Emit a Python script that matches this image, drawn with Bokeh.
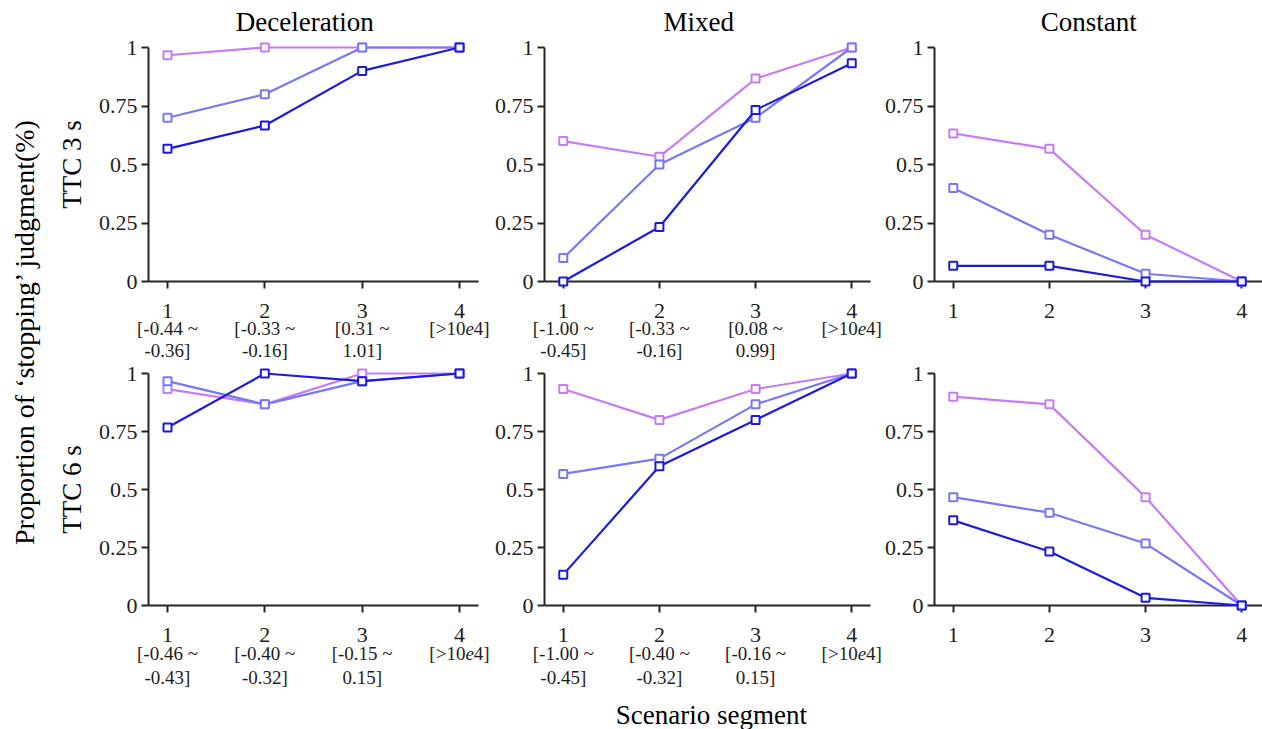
import numpy as np
from bokeh.plotting import figure
from bokeh.layouts import row, column
from bokeh.models import Range1d, FixedTicker, CustomJSTickFormatter
from bokeh.core.properties import value
from bokeh.embed import file_html
from bokeh.resources import INLINE

# ---------------- data ----------------
segments = [1, 2, 3, 4]
y_ticks = [0, 0.25, 0.5, 0.75, 1]
panel_titles = ["Deceleration", "Mixed", "Constant"]
row_labels = ["TTC 3 s", "TTC 6 s"]
series_colors = ["#c77cf6", "#7878f7", "#1b1be0"]

# TTC 3 s
dec3_a = [0.967, 1.0, 1.0, 1.0]
dec3_b = [0.70, 0.80, 1.0, 1.0]
dec3_c = [0.567, 0.667, 0.90, 1.0]
mix3_a = [0.60, 0.533, 0.867, 1.0]
mix3_b = [0.10, 0.50, 0.70, 1.0]
mix3_c = [0.0, 0.233, 0.733, 0.933]
con3_a = [0.633, 0.567, 0.20, 0.0]
con3_b = [0.40, 0.20, 0.033, 0.0]
con3_c = [0.067, 0.067, 0.0, 0.0]
# TTC 6 s
dec6_a = [0.933, 0.867, 1.0, 1.0]
dec6_b = [0.967, 0.867, 0.967, 1.0]
dec6_c = [0.767, 1.0, 0.967, 1.0]
mix6_a = [0.933, 0.80, 0.933, 1.0]
mix6_b = [0.567, 0.633, 0.867, 1.0]
mix6_c = [0.133, 0.60, 0.80, 1.0]
con6_a = [0.90, 0.867, 0.467, 0.0]
con6_b = [0.467, 0.40, 0.267, 0.0]
con6_c = [0.367, 0.233, 0.033, 0.0]

# segment interval labels (first three segments; segment 4 is open)
dec3_intervals = [("[-0.44 ~", "-0.36]"), ("[-0.33 ~", "-0.16]"), ("[0.31 ~", "1.01]")]
mix3_intervals = [("[-1.00 ~", "-0.45]"), ("[-0.33 ~", "-0.16]"), ("[0.08 ~", "0.99]")]
dec6_intervals = [("[-0.46 ~", "-0.43]"), ("[-0.40 ~", "-0.32]"), ("[-0.15 ~", "0.15]")]
mix6_intervals = [("[-1.00 ~", "-0.45]"), ("[-0.40 ~", "-0.32]"), ("[-0.16 ~", "0.15]")]
open_interval = ("[>10", "e", "4]")

FONT = "Liberation Serif"
TXT = "#1e1e1e"
AX = "#262626"
IV_SIZE = 19


def make_panel(width, height, xr, bl, br, bt, bb):
    p = figure(width=width, height=height, x_range=Range1d(*xr), y_range=Range1d(0, 1),
               output_backend="svg", toolbar_location=None,
               min_border_left=bl, min_border_right=br, min_border_top=bt, min_border_bottom=bb)
    p.grid.visible = False
    p.outline_line_color = None
    for ax in (p.xaxis[0], p.yaxis[0]):
        ax.axis_line_color = AX
        ax.axis_line_width = 2
        ax.major_tick_line_color = AX
        ax.major_tick_line_width = 2
        ax.major_tick_in = 0
        ax.major_tick_out = 7
        ax.minor_tick_line_color = None
        ax.major_label_text_font = FONT
        ax.major_label_text_font_size = "22px"
        ax.major_label_text_color = TXT
        ax.formatter = CustomJSTickFormatter(code="return String(tick)")
    p.xaxis.ticker = FixedTicker(ticks=segments)
    p.yaxis.ticker = FixedTicker(ticks=y_ticks)
    p.xaxis.major_label_standoff = 15
    p.yaxis.major_label_standoff = 4
    return p


def add_series(p, ys_list):
    for ys, c in zip(ys_list, series_colors):
        p.line(segments, ys, line_color=c, line_width=2.2, level="overlay")
        p.scatter(segments, ys, marker="square", size=8, line_color=c, line_width=2,
                  fill_color="white", level="overlay")


def txt(p, x, y, text, size, align="center", style="normal", color=TXT, x_offset=0, angle=0):
    p.text(x=[x], y=[y], text=[text], x_offset=x_offset, angle=angle,
           text_font=value(FONT), text_font_size=value(f"{size}px"), text_font_style=style,
           text_align=align, text_baseline="middle", text_color=color, level="overlay")


def add_title(p, text):
    txt(p, 2.41, 1.107, text, 27, color="black")


def add_intervals(p, intervals, y1, y2):
    for x, (l1, l2) in zip(segments[:3], intervals):
        txt(p, x, y1, l1, IV_SIZE)
        txt(p, x, y2, l2, IV_SIZE)
    w1 = 1.897 * IV_SIZE
    w2 = 0.444 * IV_SIZE
    start = -0.5 * 3.174 * IV_SIZE
    offs = [start, start + w1, start + w1 + w2]
    styles = ["normal", "italic", "normal"]
    for part, off, st in zip(open_interval, offs, styles):
        txt(p, segments[3], y1, part, IV_SIZE, align="left", style=st, x_offset=off)


def add_row_label(p, text):
    p.yaxis.axis_label = text
    p.yaxis.axis_label_text_font = FONT
    p.yaxis.axis_label_text_font_size = "27px"
    p.yaxis.axis_label_text_font_style = "normal"
    p.yaxis.axis_label_text_color = "black"
    p.yaxis.axis_label_standoff = 9


XR12 = (0.805, 4.195)
XR3 = (0.805, 4.216)

# top row (frame 234 px tall)
f1 = make_panel(447, 360, XR12, 104, 13, 47, 79)
f2 = make_panel(390, 360, XR12, 49, 11, 47, 79)
f3 = make_panel(381, 360, XR3, 49, 0, 47, 79)
# bottom row (frame 232 px tall)
f4 = make_panel(447, 369, XR12, 104, 13, 13, 124)
f5 = make_panel(390, 369, XR12, 49, 11, 13, 124)
f6 = make_panel(381, 369, XR3, 49, 0, 13, 124)

add_series(f1, [dec3_a, dec3_b, dec3_c])
add_series(f2, [mix3_a, mix3_b, mix3_c])
add_series(f3, [con3_a, con3_b, con3_c])
add_series(f4, [dec6_a, dec6_b, dec6_c])
add_series(f5, [mix6_a, mix6_b, mix6_c])
add_series(f6, [con6_a, con6_b, con6_c])

for p, t in zip([f1, f2, f3], panel_titles):
    add_title(p, t)

add_intervals(f1, dec3_intervals, -0.201, -0.293)
add_intervals(f2, mix3_intervals, -0.201, -0.293)
add_intervals(f4, dec6_intervals, -0.207, -0.310)
add_intervals(f5, mix6_intervals, -0.207, -0.310)

add_row_label(f1, row_labels[0])
add_row_label(f4, row_labels[1])

txt(f5, 2.541, -0.474, "Scenario segment", 27, color="black")

# left strip with the shared y label
L = figure(width=44, height=729, x_range=Range1d(0, 44), y_range=Range1d(0, 729),
           x_axis_type=None, y_axis_type=None, output_backend="svg", toolbar_location=None,
           min_border=0)
L.grid.visible = False
L.outline_line_color = None
txt(L, 24, 398, "Proportion of \u2018stopping\u2019 judgment(%)", 28, color="black", angle=np.pi / 2)

layout = row(L, column(row(f1, f2, f3), row(f4, f5, f6)))

open("out.html", "w").write(file_html(layout, INLINE))
